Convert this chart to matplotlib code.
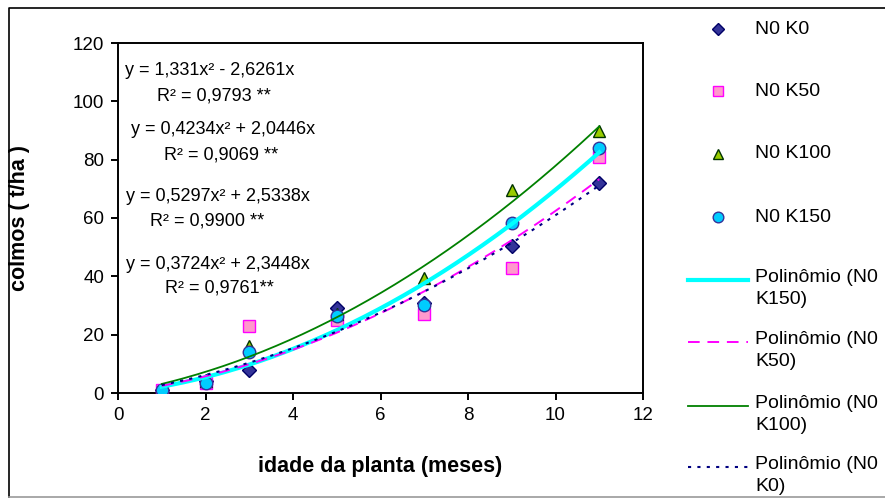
import numpy as np
import matplotlib
matplotlib.use("Agg")
import matplotlib.pyplot as plt
from matplotlib.lines import Line2D

plt.rcParams['font.family'] = ['Liberation Sans', 'DejaVu Sans']

# ---- data ----
idade = [1, 2, 3, 5, 7, 9, 11]
n0k0 = [1.0, 4.0, 8.0, 29.0, 31.0, 50.5, 72.0]
n0k50 = [1.0, 3.5, 23.0, 25.0, 27.0, 43.0, 81.0]
n0k100 = [1.5, 4.0, 16.0, 27.0, 39.5, 69.5, 90.0]
n0k150 = [1.0, 3.5, 14.0, 26.3, 30.3, 58.3, 84.0]

series_labels = ["N0 K0", "N0 K50", "N0 K100", "N0 K150"]
trend_labels = ["Polinômio (N0\nK150)", "Polinômio (N0\nK50)",
                "Polinômio (N0\nK100)", "Polinômio (N0\nK0)"]
equations = ["y = 1,331x² - 2,6261x", "y = 0,4234x² + 2,0446x",
             "y = 0,5297x² + 2,5338x", "y = 0,3724x² + 2,3448x"]
r2_labels = ["R² = 0,9793 **", "R² = 0,9069 **", "R² = 0,9900 **", "R² = 0,9761**"]
xticks = [0, 2, 4, 6, 8, 10, 12]
yticks = [0, 20, 40, 60, 80, 100, 120]

# ---- styles ----
marker_styles = [
    dict(marker='D', ms=7, mfc='#333399', mec='#000066'),
    dict(marker='s', ms=8.5, mfc='#FF99CC', mec='#FF00FF'),
    dict(marker='^', ms=9, mfc='#99CC00', mec='#003300'),
    dict(marker='o', ms=9, mfc='#00CCFF', mec='#333399'),
]
line_styles = {  # keyed by series index
    3: dict(color='#00FFFF', lw=3.0, ls='-'),
    1: dict(color='#FF00FF', lw=1.4, ls=(0, (6, 4))),
    2: dict(color='#008000', lw=1.3, ls='-'),
    0: dict(color='#000080', lw=1.5, ls=(0, (1.5, 3))),
}
trend_order = [3, 1, 2, 0]

fig = plt.figure(figsize=(8.85, 4.99), dpi=100)
W, H = 885, 499
ax = fig.add_axes([118 / W, 1 - 393 / H, (643 - 118) / W, (393 - 43) / H])

data = [n0k0, n0k50, n0k100, n0k150]
x = np.array(idade, dtype=float)
for i, ys in enumerate(data):
    ax.plot(x, ys, ls='none', mew=1.0, zorder=3 + i * 0.1, **marker_styles[i])

xs = np.linspace(1, 11, 200)
for i in trend_order:
    ys = np.array(data[i], dtype=float)
    A = np.column_stack([x ** 2, x])
    coef, *_ = np.linalg.lstsq(A, ys, rcond=None)
    ax.plot(xs, coef[0] * xs ** 2 + coef[1] * xs, zorder=4, **line_styles[i])

ax.set_xlim(0, 12)
ax.set_ylim(0, 120)
ax.set_xticks(xticks)
ax.set_yticks(yticks)
ax.tick_params(direction='out', length=5, width=1.4, labelsize=13.5, pad=5)
for s in ax.spines.values():
    s.set_linewidth(1.4)
ax.set_xlabel("idade da planta (meses)", fontsize=15.5, fontweight='bold', labelpad=23)
ax.set_ylabel("colmos ( t/ha )", fontsize=15.5, fontweight='bold', labelpad=31)

# equation annotations
eq_pos = [(0.16, 110.7), (0.30, 90.2), (0.18, 67.5), (0.18, 43.9)]
r2_pos = [(0.90, 101.8), (1.06, 81.6), (0.74, 59.0), (1.08, 36.0)]
for t, (ex, ey) in zip(equations, eq_pos):
    ax.text(ex, ey, t, fontsize=13, va='center', ha='left')
for t, (rx, ry) in zip(r2_labels, r2_pos):
    ax.text(rx, ry, t, fontsize=13, va='center', ha='left')

# legend (manual placement in figure pixels)
leg_fs = 14
hx0, hx1, tx = 688, 748, 755
for lab, st, yy in zip(series_labels, marker_styles, [29, 91, 154, 217]):
    st2 = dict(st)
    st2['ms'] = st['ms'] * 0.85
    fig.add_artist(Line2D([(hx0 + hx1) / 2 / W], [1 - yy / H], ls='none',
                          transform=fig.transFigure, mew=1.0, **st2))
    fig.text(tx / W, 1 - yy / H, lab, fontsize=leg_fs, va='center', ha='left')
for lab, i, yy in zip(trend_labels, trend_order, [280, 342, 406, 467]):
    fig.add_artist(Line2D([hx0 / W, hx1 / W], [1 - yy / H] * 2,
                          transform=fig.transFigure, **line_styles[i]))
    fig.text(tx / W, 1 - (yy - 11) / H, lab, fontsize=leg_fs, va='top', ha='left',
             linespacing=1.38)

# outer chart frame
fig.add_artist(Line2D([9 / W, 9 / W, 1.0], [1 - 497 / H, 1 - 8 / H, 1 - 8 / H],
                      transform=fig.transFigure, color='black', lw=1.2))
fig.add_artist(Line2D([9 / W, 1.0], [1 - 497 / H] * 2,
                      transform=fig.transFigure, color='#999999', lw=1.2))

fig.savefig("out.png", dpi=100)
